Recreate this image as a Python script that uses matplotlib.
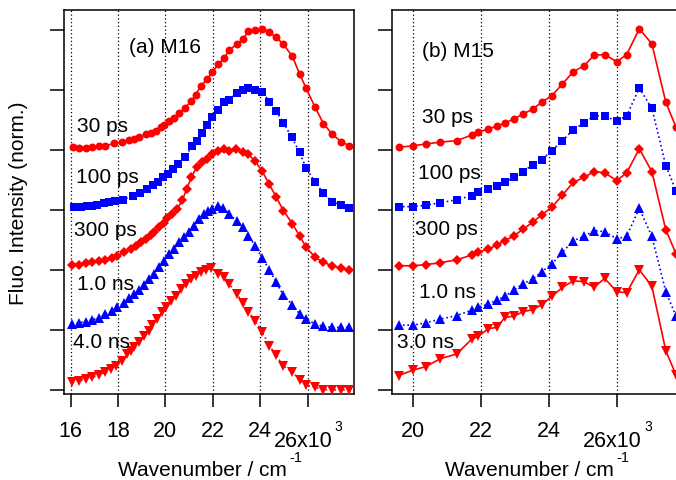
import matplotlib
matplotlib.use('Agg')
import matplotlib.pyplot as plt

plt.rcParams['font.family'] = ['Liberation Sans', 'DejaVu Sans']
plt.rcParams['mathtext.default'] = 'regular'

RED = '#ff0000'
BLUE = '#0000ff'

# ---- (a) M16 : wavenumber (x10^3 cm-1) and normalized intensity ----
m16_x_30ps = [16.11, 16.35, 16.63, 16.91, 17.20, 17.47, 17.83, 18.18, 18.46, 18.67, 18.89,
              19.17, 19.38, 19.59, 19.80, 19.94, 20.15, 20.36, 20.58, 20.82, 21.07, 21.28,
              21.49, 21.77, 21.98, 22.24, 22.48, 22.70, 23.01, 23.29, 23.50, 23.79, 24.09,
              24.38, 24.67, 24.98, 25.36, 25.66, 25.94, 26.32, 26.67, 27.05, 27.41, 27.77]
m16_y_30ps = [.022, .015, .015, .022, .03, .035, .055, .07, .085, .09, .105,
              .13, .14, .16, .19, .21, .24, .27, .305, .35, .405, .46,
              .535, .59, .65, .715, .765, .835, .88, .925, .995, 1.0, 1.01,
              .98, .94, .88, .78, .635, .515, .355, .22, .13, .07, .035]

m16_x_100ps = [16.14, 16.42, 16.70, 16.91, 17.12, 17.41, 17.62, 17.87, 18.22, 18.64, 18.93,
               19.21, 19.49, 19.70, 19.91, 20.12, 20.33, 20.55, 20.83, 21.11, 21.32, 21.53,
               21.75, 21.96, 22.24, 22.48, 22.70, 23.01, 23.29, 23.50, 23.79, 24.09, 24.39,
               24.67, 24.98, 25.34, 25.66, 25.94, 26.32, 26.67, 27.03, 27.41, 27.77]
m16_y_100ps = [.028, .029, .032, .035, .045, .055, .065, .072, .085, .12, .145,
               .175, .205, .235, .272, .30, .34, .385, .44, .53, .578, .64,
               .71, .772, .835, .898, .92, .975, 1.0, 1.02, 1.0, .985, .902,
               .828, .725, .605, .48, .35, .23, .14, .07, .04, .015]

m16_x_300ps = [16.07, 16.35, 16.63, 16.91, 17.20, 17.47, 17.76, 17.97, 18.25, 18.53, 18.75,
               18.96, 19.17, 19.38, 19.52, 19.73, 19.94, 20.08, 20.29, 20.50, 20.71, 20.90,
               21.10, 21.32, 21.55, 21.75, 21.96, 22.24, 22.48, 22.70, 22.98, 23.29, 23.50,
               23.79, 24.09, 24.38, 24.67, 24.98, 25.36, 25.66, 25.94, 26.32, 26.67, 27.03,
               27.41, 27.77]
m16_y_300ps = [.045, .045, .055, .065, .075, .085, .098, .115, .148, .175, .202,
               .23, .26, .29, .315, .355, .395, .43, .465, .51, .58, .675,
               .775, .855, .90, .925, .965, .995, 1.01, .995, 1.01, .98, .965,
               .905, .822, .715, .61, .495, .385, .285, .19, .105, .065, .035,
               .015, .002]

m16_x_1ns = [16.07, 16.35, 16.63, 16.91, 17.20, 17.47, 17.76, 17.97, 18.25, 18.46, 18.67,
             18.89, 19.10, 19.31, 19.52, 19.73, 19.94, 20.15, 20.36, 20.58, 20.79, 21.00,
             21.21, 21.42, 21.63, 21.80, 21.96, 22.24, 22.45, 22.69, 23.01, 23.29, 23.50,
             23.79, 24.09, 24.39, 24.67, 24.98, 25.36, 25.66, 25.94, 26.32, 26.67, 27.03,
             27.41, 27.77]
m16_y_1ns = [.05, .06, .07, .085, .10, .135, .16, .19, .225, .265, .30,
             .335, .375, .425, .465, .522, .578, .635, .675, .73, .772, .815,
             .87, .925, .965, .995, 1.01, 1.03, 1.02, .965, .91, .855, .785,
             .702, .598, .50, .398, .29, .21, .135, .09, .05, .03, .022,
             .022, .022]

m16_x_4ns = [16.07, 16.35, 16.63, 16.91, 17.20, 17.47, 17.69, 17.90, 18.18, 18.39, 18.53,
             18.67, 18.89, 19.10, 19.31, 19.45, 19.66, 19.87, 20.01, 20.22, 20.44, 20.65,
             20.86, 21.07, 21.28, 21.49, 21.70, 21.91, 22.24, 22.48, 22.69, 23.01, 23.29,
             23.50, 23.79, 24.09, 24.39, 24.67, 24.98, 25.36, 25.66, 25.94, 26.32, 26.67,
             27.03, 27.41, 27.77]
m16_y_4ns = [.07, .078, .09, .105, .125, .148, .175, .202, .245, .30, .328,
             .355, .398, .452, .495, .54, .59, .648, .69, .745, .785, .84,
             .885, .925, .952, .98, 1.0, 1.015, .965, .94, .885, .80, .725,
             .652, .578, .48, .37, .29, .202, .148, .085, .04, .022, .002,
             0, 0, 0]

# ---- (b) M15 ----
m15_x = [19.58, 20.00, 20.39, 20.80, 21.29, 21.74, 21.93, 22.22, 22.47, 22.71, 22.98, 23.24,
         23.53, 23.79, 24.09, 24.40, 24.72, 25.04, 25.33, 25.64, 26.00, 26.29, 26.66, 27.03,
         27.44, 27.74]
m15_y_30ps = [.022, .035, .05, .065, .078, .125, .148, .175, .198, .225, .26, .30,
              .34, .398, .452, .55, .652, .702, .79, .795, .735, .795, 1.01, .885,
              .398, .19]
m15_y_100ps = [.028, .028, .04, .06, .085, .12, .148, .175, .202, .23, .272, .32,
               .378, .42, .495, .578, .67, .725, .785, .785, .74, .785, 1.015, .848,
               .37, .16]
m15_y_300ps = [.035, .035, .045, .06, .085, .125, .148, .175, .208, .245, .285, .34,
               .398, .46, .522, .625, .73, .772, .82, .81, .745, .81, 1.01, .82,
               .335, .135]
m15_y_1ns = [.04, .04, .06, .09, .12, .165, .19, .215, .25, .28, .335, .385,
             .425, .485, .55, .648, .745, .78, .828, .82, .76, .78, 1.015, .78,
             .32, .115]
m15_y_3ns = [.12, .165, .195, .26, .30, .425, .448, .51, .522, .605, .615, .652,
             .67, .71, .78, .855, .91, .902, .855, .93, .82, .81, 1.002, .865,
             .328, .125]

# label, x, y, offset, color, marker, markersize, linestyle
m16_series = [
    ('30 ps', m16_x_30ps, m16_y_30ps, 4, RED, 'o', 5.7, '-'),
    ('100 ps', m16_x_100ps, m16_y_100ps, 3, BLUE, 's', 5.7, ':'),
    ('300 ps', m16_x_300ps, m16_y_300ps, 2, RED, 'D', 5.2, '-'),
    ('1.0 ns', m16_x_1ns, m16_y_1ns, 1, BLUE, '^', 6.8, ':'),
    ('4.0 ns', m16_x_4ns, m16_y_4ns, 0, RED, 'v', 6.8, ':'),
]
m15_series = [
    ('30 ps', m15_x, m15_y_30ps, 4, RED, 'o', 5.7, '-'),
    ('100 ps', m15_x, m15_y_100ps, 3, BLUE, 's', 5.7, ':'),
    ('300 ps', m15_x, m15_y_300ps, 2, RED, 'D', 5.2, '-'),
    ('1.0 ns', m15_x, m15_y_1ns, 1, BLUE, '^', 6.8, ':'),
    ('3.0 ns', m15_x, m15_y_3ns, 0, RED, 'v', 6.8, '-'),
]

# text label positions (x, baseline y) in data units
m16_label_pos = [(16.28, 4.32), (16.21, 3.46), (16.14, 2.58), (16.28, 1.68), (16.11, 0.71)]
m15_label_pos = [(20.26, 4.46), (20.14, 3.54), (20.07, 2.60), (20.17, 1.545), (19.53, 0.71)]

FS = 15
TFS = 15.5

fig = plt.figure(figsize=(6.76, 4.81), dpi=100)
axL = fig.add_axes([64 / 676, 86 / 481, 290 / 676, 384 / 481])
axR = fig.add_axes([391.7 / 676, 86 / 481, (676 - 391.7) / 676, 384 / 481])


def draw(ax, series, label_pos, ticks, xlim, title, title_pos):
    for xv in ticks:
        ax.axvline(xv, color='black', lw=0.9, ls=(0, (1, 2)), zorder=1)
    for (lab, x, y, off, col, mk, ms, ls), (tx, ty) in zip(series, label_pos):
        yy = [off + 2 * v for v in y]
        ax.plot(x, yy, color=col, ls=ls, lw=1.2, marker=mk, ms=ms,
                markeredgewidth=0, zorder=3)
        ax.text(tx, ty, lab, fontsize=FS, ha='left', va='baseline', zorder=4)
    ax.text(title_pos[0], title_pos[1], title, fontsize=FS, ha='left', va='baseline')
    ax.set_xlim(*xlim)
    ax.set_ylim(-0.067, 6.333)
    ax.set_yticks(range(7))
    ax.tick_params(axis='y', direction='out', length=10, width=1.1, labelleft=False)
    ax.set_xticks(ticks)
    ax.set_xticklabels([str(t) for t in ticks[:-1]] + [''])
    ax.tick_params(axis='x', direction='out', length=9.5, width=1.1, pad=9.5,
                   labelsize=TFS)
    # Igor-style exponent label on the last tick
    ax.annotate('26x10', xy=(ticks[-1], 0), xycoords=('data', 'axes fraction'),
                xytext=(-3, -37.5), textcoords='offset points',
                ha='center', va='baseline', fontsize=TFS, annotation_clip=False)
    ax.annotate('3', xy=(ticks[-1], 0), xycoords=('data', 'axes fraction'),
                xytext=(19.5, -26), textcoords='offset points',
                ha='left', va='baseline', fontsize=10, annotation_clip=False)
    for s in ax.spines.values():
        s.set_linewidth(1.1)


draw(axL, m16_series, m16_label_pos, [16, 18, 20, 22, 24, 26], (15.72, 27.96),
     '(a) M16', (18.46, 5.63))
draw(axR, m15_series, m15_label_pos, [20, 22, 24, 26], (19.38, 27.74),
     '(b) M15', (20.26, 5.57))
axR.spines['right'].set_visible(False)

fig.text(18.5 / 676, 1 - 203 / 481, 'Fluo. Intensity (norm.)', fontsize=FS,
         rotation=90, ha='center', va='center')
for cx in (209, 536):
    fig.text((cx - 7) / 676, 5 / 481, 'Wavenumber / cm', fontsize=FS,
             ha='center', va='baseline')
    fig.text((cx + 80) / 676, 18.5 / 481, '-1', fontsize=10.5,
             ha='left', va='baseline')

fig.savefig('out.png', dpi=100)
plt.close(fig)
